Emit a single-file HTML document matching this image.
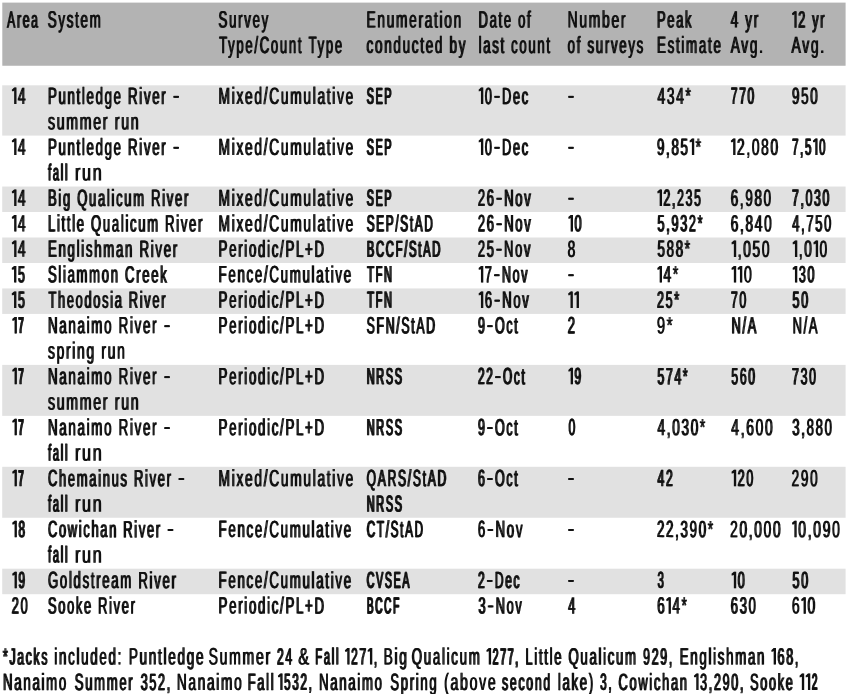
<!DOCTYPE html>
<html><head><meta charset="utf-8"><title>Escapement table</title>
<style>
html,body{margin:0;padding:0;background:#fff;}
svg{display:block;will-change:transform;filter:grayscale(1);}
text{font-family:"Liberation Sans",sans-serif;font-size:24px;font-weight:normal;fill:#111;stroke:#111;stroke-linejoin:round;white-space:pre;}
path{fill:#111;}
</style></head><body>
<svg width="850" height="694" viewBox="0 0 850 694">
<rect x="0" y="0" width="850" height="694" fill="#fff"/>
<rect x="2.3" y="2.6" width="843.3" height="63.15" fill="#b3b3b3"/>
<rect x="2.2" y="85.30" width="843.4" height="50.29" fill="#e1e1e1"/>
<rect x="2.2" y="186.54" width="843.4" height="25.48" fill="#e1e1e1"/>
<rect x="2.2" y="237.50" width="843.4" height="25.48" fill="#e1e1e1"/>
<rect x="2.2" y="288.45" width="843.4" height="25.48" fill="#e1e1e1"/>
<rect x="2.2" y="364.89" width="843.4" height="50.96" fill="#e1e1e1"/>
<rect x="2.2" y="466.80" width="843.4" height="50.96" fill="#e1e1e1"/>
<rect x="2.2" y="568.71" width="843.4" height="25.48" fill="#e1e1e1"/>
<g class="t" transform="translate(-0.45,0)">
<text transform="matrix(0.5056,0.0005,0,0.9687,7.17,27.44)" stroke-width="0.47" x="0.00 19.37 30.72 47.43">Area</text>
<text transform="matrix(0.5558,0.0005,0,0.9822,47.76,27.55)" stroke-width="0.24" x="0.00 19.07 34.12 49.18 58.91 75.32">System</text>
<text transform="matrix(0.5517,0.0005,0,0.9811,218.57,27.54)" stroke-width="0.26" x="0.00 19.09 35.52 46.59 61.67 78.10">Survey</text>
<text transform="matrix(0.5469,0.0005,0,0.9799,219.13,53.01)" stroke-width="0.28" x="0.00 16.44 31.55 48.01 64.46 74.24 94.68 111.14 127.59 144.05 153.82 163.60 180.04 195.15 211.61">Type/Count Type</text>
<text transform="matrix(0.5713,0.0005,0,0.9859,366.53,27.58)" stroke-width="0.18" x="0.00 18.98 35.31 51.63 74.60 90.92 101.89 118.21 127.86 136.16 152.49">Enumeration</text>
<text transform="matrix(0.5620,0.0005,0,0.9837,366.55,53.04)" stroke-width="0.21" x="0.00 15.02 31.40 47.77 64.14 80.51 95.54 105.23 121.60 137.98 147.67 164.04">conducted by</text>
<text transform="matrix(0.5428,0.0005,0,0.9789,478.49,27.52)" stroke-width="0.29" x="0.00 20.46 36.94 46.74 63.22 73.02 89.50">Date of</text>
<text transform="matrix(0.5462,0.0005,0,0.9798,478.58,53.01)" stroke-width="0.28" x="0.00 8.44 24.90 40.02 49.80 59.58 74.69 91.15 107.61 124.07">last count</text>
<text transform="matrix(0.5786,0.0005,0,0.9876,567.61,27.59)" stroke-width="0.15" x="0.00 20.27 36.56 59.49 75.77 92.06">Number</text>
<text transform="matrix(0.5514,0.0005,0,0.9811,567.67,53.02)" stroke-width="0.26" x="0.00 16.43 26.18 35.93 51.02 67.45 78.52 93.60 110.03 125.12">of surveys</text>
<text transform="matrix(0.5380,0.0005,0,0.9776,657.00,27.51)" stroke-width="0.32" x="0.00 19.17 35.68 52.18">Peak</text>
<text transform="matrix(0.5572,0.0005,0,0.9825,656.96,53.03)" stroke-width="0.23" x="0.00 19.06 34.11 43.83 52.21 75.26 91.65 101.37">Estimate</text>
<text transform="matrix(0.5591,0.0005,0,0.9830,730.71,27.56)" stroke-width="0.23" x="0.00 16.39 26.10 41.14">4 yr</text>
<text transform="matrix(0.5705,0.0005,0,0.9857,730.70,53.06)" stroke-width="0.18" x="0.00 18.55 33.53 49.86">Avg.</text>
<path d="M792.45 13.27 L794.80 11.17 L796.25 11.17 L796.25 27.67 L794.80 27.67 L794.80 13.67 L792.70 15.17Z"/>
<text transform="matrix(0.5274,0.0005,0,0.9748,798.25,27.49)" stroke-width="0.36" x="0.00 16.57 26.46 41.69">2 yr</text>
<text transform="matrix(0.5796,0.0005,0,0.9878,791.49,53.07)" stroke-width="0.14" x="0.00 18.51 33.44 49.72">Avg.</text>
<path d="M12.25 89.70 L14.60 87.60 L16.05 87.60 L16.05 104.10 L14.60 104.10 L14.60 90.10 L12.50 91.60Z"/>
<text transform="matrix(0.5649,0.0005,0,0.9844,18.05,104.00)" stroke-width="0.20" x="0.00">4</text>
<path d="M173.75 95.90h4.80v1.9h-4.80Z"/>
<text transform="matrix(0.5499,0.0005,0,0.9807,47.97,103.97)" stroke-width="0.26" x="0.00 19.10 35.54 51.98 61.74 70.16 86.60 103.04 119.48 135.92 145.67 166.10 174.52 189.61 206.05 217.13">Puntledge River </text>
<text transform="matrix(0.5884,0.0005,0,0.9898,47.98,129.52)" stroke-width="0.11" x="0.00 14.89 31.13 54.01 76.89 93.13 104.01 113.56 124.45 140.68">summer run</text>
<text transform="matrix(0.5729,0.0005,0,0.9863,218.53,104.02)" stroke-width="0.17" x="0.00 22.96 31.26 46.23 62.54 78.86 88.49 108.79 125.11 148.06 164.38 172.68 188.99 198.63 206.93 221.90">Mixed/Cumulative</text>
<text transform="matrix(0.4440,0.0005,0,0.9488,366.79,103.71)" stroke-width="0.83" x="0.00 19.84 39.67">SEP</text>
<path d="M479.05 89.70 L481.40 87.60 L482.85 87.60 L482.85 104.10 L481.40 104.10 L481.40 90.10 L479.30 91.60Z"/>
<path d="M494.63 95.90h4.80v1.9h-4.80Z"/>
<text transform="matrix(0.5302,0.0005,0,0.9756,484.85,103.93)" stroke-width="0.35" x="0.00 32.59 53.12 69.68">0Dec</text>
<path d="M568.60 95.90h4.80v1.9h-4.80Z"/>
<text transform="matrix(0.5730,0.0005,0,0.9863,657.50,104.02)" stroke-width="0.17" x="0.00 16.31 32.63 48.94">434*</text>
<text transform="matrix(0.4973,0.0005,0,0.9663,730.88,103.85)" stroke-width="0.51" x="0.00 16.77 33.53">770</text>
<text transform="matrix(0.5574,0.0005,0,0.9826,791.96,103.99)" stroke-width="0.23" x="0.00 16.40 32.79">950</text>
<path d="M12.25 140.66 L14.60 138.56 L16.05 138.56 L16.05 155.06 L14.60 155.06 L14.60 141.06 L12.50 142.56Z"/>
<text transform="matrix(0.5649,0.0005,0,0.9844,18.05,154.96)" stroke-width="0.20" x="0.00">4</text>
<path d="M173.75 146.86h4.80v1.9h-4.80Z"/>
<text transform="matrix(0.5499,0.0005,0,0.9807,47.97,154.93)" stroke-width="0.26" x="0.00 19.10 35.54 51.98 61.74 70.16 86.60 103.04 119.48 135.92 145.67 166.10 174.52 189.61 206.05 217.13">Puntledge River </text>
<text transform="matrix(0.4624,0.0005,0,0.9552,48.11,180.19)" stroke-width="0.71" x="0.00 10.34 27.37 36.38">fall</text>
<text transform="matrix(0.6710,0.0005,0,0.9964,74.98,180.53)" stroke-width="0.00" x="0.00 10.53 26.41">run</text>
<text transform="matrix(0.5729,0.0005,0,0.9863,218.53,154.97)" stroke-width="0.17" x="0.00 22.96 31.26 46.23 62.54 78.86 88.49 108.79 125.11 148.06 164.38 172.68 188.99 198.63 206.93 221.90">Mixed/Cumulative</text>
<text transform="matrix(0.4440,0.0005,0,0.9488,366.79,154.66)" stroke-width="0.83" x="0.00 19.84 39.67">SEP</text>
<path d="M479.05 140.66 L481.40 138.56 L482.85 138.56 L482.85 155.06 L481.40 155.06 L481.40 141.06 L479.30 142.56Z"/>
<path d="M494.63 146.86h4.80v1.9h-4.80Z"/>
<text transform="matrix(0.5302,0.0005,0,0.9756,484.85,154.88)" stroke-width="0.35" x="0.00 32.59 53.12 69.68">0Dec</text>
<path d="M568.60 146.86h4.80v1.9h-4.80Z"/>
<path d="M689.99 140.66 L692.34 138.56 L693.79 138.56 L693.79 155.06 L692.34 155.06 L692.34 141.06 L690.24 142.56Z"/>
<text transform="matrix(0.5550,0.0005,0,0.9820,656.96,154.94)" stroke-width="0.24" x="0.00 16.41 26.14 42.55 69.95">9,85*</text>
<path d="M731.25 140.66 L733.60 138.56 L735.05 138.56 L735.05 155.06 L733.60 155.06 L733.60 141.06 L731.50 142.56Z"/>
<text transform="matrix(0.5702,0.0005,0,0.9856,737.05,154.97)" stroke-width="0.18" x="0.00 16.33 25.98 42.31 58.64">2,080</text>
<path d="M813.34 140.66 L815.69 138.56 L817.14 138.56 L817.14 155.06 L815.69 155.06 L815.69 141.06 L813.59 142.56Z"/>
<text transform="matrix(0.4738,0.0005,0,0.9590,792.13,154.75)" stroke-width="0.64" x="0.00 16.94 27.19 57.00">7,50</text>
<path d="M12.25 191.61 L14.60 189.51 L16.05 189.51 L16.05 206.01 L14.60 206.01 L14.60 192.01 L12.50 193.51Z"/>
<text transform="matrix(0.5649,0.0005,0,0.9844,18.05,205.91)" stroke-width="0.20" x="0.00">4</text>
<text transform="matrix(0.5423,0.0005,0,0.9787,47.99,205.87)" stroke-width="0.30" x="0.00 19.14 27.61 44.09 53.90 75.70 92.18 108.66 117.13 125.60 140.73 157.22 180.34 190.15 210.61 219.08 234.22 250.70">Big Qualicum River</text>
<text transform="matrix(0.5729,0.0005,0,0.9863,218.53,205.93)" stroke-width="0.17" x="0.00 22.96 31.26 46.23 62.54 78.86 88.49 108.79 125.11 148.06 164.38 172.68 188.99 198.63 206.93 221.90">Mixed/Cumulative</text>
<text transform="matrix(0.4440,0.0005,0,0.9488,366.79,205.62)" stroke-width="0.83" x="0.00 19.84 39.67">SEP</text>
<path d="M496.71 197.81h4.80v1.9h-4.80Z"/>
<text transform="matrix(0.5402,0.0005,0,0.9782,477.89,205.86)" stroke-width="0.31" x="0.00 16.49 48.73 69.20 85.70">26Nov</text>
<path d="M568.60 197.81h4.80v1.9h-4.80Z"/>
<path d="M657.75 191.61 L660.10 189.51 L661.55 189.51 L661.55 206.01 L660.10 206.01 L660.10 192.01 L658.00 193.51Z"/>
<text transform="matrix(0.5089,0.0005,0,0.9697,663.55,205.79)" stroke-width="0.45" x="0.00 16.69 26.70 43.39 60.07">2,235</text>
<text transform="matrix(0.5582,0.0005,0,0.9827,730.76,205.90)" stroke-width="0.23" x="0.00 16.39 26.11 42.50 58.89">6,980</text>
<text transform="matrix(0.5070,0.0005,0,0.9691,792.06,205.79)" stroke-width="0.46" x="0.00 16.70 26.72 43.42 60.12">7,030</text>
<path d="M12.25 217.09 L14.60 214.99 L16.05 214.99 L16.05 231.49 L14.60 231.49 L14.60 217.49 L12.50 218.99Z"/>
<text transform="matrix(0.5649,0.0005,0,0.9844,18.05,231.39)" stroke-width="0.20" x="0.00">4</text>
<text transform="matrix(0.5437,0.0005,0,0.9791,47.99,231.35)" stroke-width="0.29" x="0.00 16.47 24.93 34.73 44.52 52.98 69.45 79.25 101.04 117.52 133.99 142.45 150.91 166.04 182.51 205.63 215.42 235.88 244.34 259.47 275.94">Little Qualicum River</text>
<text transform="matrix(0.5729,0.0005,0,0.9863,218.53,231.41)" stroke-width="0.17" x="0.00 22.96 31.26 46.23 62.54 78.86 88.49 108.79 125.11 148.06 164.38 172.68 188.99 198.63 206.93 221.90">Mixed/Cumulative</text>
<text transform="matrix(0.4903,0.0005,0,0.9642,366.69,231.22)" stroke-width="0.55" x="0.00 19.47 38.95 58.42 68.56 88.03 98.17 117.64">SEP/StAD</text>
<path d="M496.71 223.29h4.80v1.9h-4.80Z"/>
<text transform="matrix(0.5402,0.0005,0,0.9782,477.89,231.34)" stroke-width="0.31" x="0.00 16.49 48.73 69.20 85.70">26Nov</text>
<path d="M568.75 217.09 L571.10 214.99 L572.55 214.99 L572.55 231.49 L571.10 231.49 L571.10 217.49 L569.00 218.99Z"/>
<text transform="matrix(0.5314,0.0005,0,0.9759,574.55,231.32)" stroke-width="0.35" x="0.00">0</text>
<text transform="matrix(0.5257,0.0005,0,0.9744,657.55,231.31)" stroke-width="0.37" x="0.00 16.58 26.48 43.06 59.65 76.23">5,932*</text>
<text transform="matrix(0.5688,0.0005,0,0.9853,730.73,231.40)" stroke-width="0.19" x="0.00 16.34 25.99 42.33 58.67">6,840</text>
<text transform="matrix(0.5364,0.0005,0,0.9772,792.24,231.33)" stroke-width="0.32" x="0.00 16.52 26.35 42.87 59.39">4,750</text>
<path d="M12.25 242.57 L14.60 240.47 L16.05 240.47 L16.05 256.97 L14.60 256.97 L14.60 242.97 L12.50 244.47Z"/>
<text transform="matrix(0.5649,0.0005,0,0.9844,18.05,256.87)" stroke-width="0.20" x="0.00">4</text>
<text transform="matrix(0.5514,0.0005,0,0.9811,47.97,256.84)" stroke-width="0.26" x="0.00 19.09 35.52 51.95 60.37 68.78 83.87 100.30 123.37 139.80 156.23 165.98 186.40 194.81 209.90 226.33">Englishman River</text>
<text transform="matrix(0.5523,0.0005,0,0.9813,218.57,256.84)" stroke-width="0.25" x="0.00 19.09 35.51 46.58 54.99 71.42 87.84 96.25 111.33 121.08 140.16 156.59 173.68">Periodic/PL+D</text>
<text transform="matrix(0.4696,0.0005,0,0.9576,366.74,256.65)" stroke-width="0.67" x="0.00 19.63 40.58 61.53 79.81 90.10 109.73 120.02 139.65">BCCF/StAD</text>
<path d="M496.60 248.77h4.80v1.9h-4.80Z"/>
<text transform="matrix(0.5356,0.0005,0,0.9770,477.90,256.81)" stroke-width="0.33" x="0.00 16.52 48.91 69.42 85.94">25Nov</text>
<text transform="matrix(0.5758,0.0005,0,0.9869,567.62,256.89)" stroke-width="0.16" x="0.00">8</text>
<text transform="matrix(0.5539,0.0005,0,0.9817,657.52,256.85)" stroke-width="0.25" x="0.00 16.42 32.83 49.25">588*</text>
<path d="M731.95 242.57 L734.30 240.47 L735.75 240.47 L735.75 256.97 L734.30 256.97 L734.30 242.97 L732.20 244.47Z"/>
<text transform="matrix(0.5705,0.0005,0,0.9857,737.75,256.88)" stroke-width="0.18" x="0.00 9.65 25.98 42.30">,050</text>
<path d="M793.05 242.57 L795.40 240.47 L796.85 240.47 L796.85 256.97 L795.40 256.97 L795.40 242.97 L793.30 244.47Z"/>
<path d="M813.85 242.57 L816.20 240.47 L817.65 240.47 L817.65 256.97 L816.20 256.97 L816.20 242.97 L814.10 244.47Z"/>
<text transform="matrix(0.5647,0.0005,0,0.9843,798.85,256.87)" stroke-width="0.20" x="0.00 9.68 36.84">,00</text>
<path d="M12.15 268.05 L14.50 265.95 L15.95 265.95 L15.95 282.45 L14.50 282.45 L14.50 268.45 L12.40 269.95Z"/>
<text transform="matrix(0.5146,0.0005,0,0.9713,17.95,282.24)" stroke-width="0.43" x="0.00">5</text>
<text transform="matrix(0.5448,0.0005,0,0.9794,47.98,282.31)" stroke-width="0.29" x="0.00 19.13 27.58 36.03 52.50 75.61 98.73 115.19 131.66 141.45 161.90 173.01 189.48 205.95">Sliammon Creek</text>
<text transform="matrix(0.5532,0.0005,0,0.9815,218.57,282.32)" stroke-width="0.25" x="0.00 17.73 34.15 50.57 65.65 82.07 91.81 112.21 128.63 151.70 168.12 176.52 192.94 202.68 211.09 226.16">Fence/Cumulative</text>
<text transform="matrix(0.4581,0.0005,0,0.9538,367.22,282.09)" stroke-width="0.74" x="0.00 18.37 36.74">TFN</text>
<path d="M479.05 268.05 L481.40 265.95 L482.85 265.95 L482.85 282.45 L481.40 282.45 L481.40 268.45 L479.30 269.95Z"/>
<path d="M494.46 274.25h4.80v1.9h-4.80Z"/>
<text transform="matrix(0.5175,0.0005,0,0.9721,484.85,282.25)" stroke-width="0.41" x="0.00 33.06 53.68 70.31">7Nov</text>
<path d="M568.60 274.25h4.80v1.9h-4.80Z"/>
<path d="M657.75 268.05 L660.10 265.95 L661.55 265.95 L661.55 282.45 L660.10 282.45 L660.10 268.45 L658.00 269.95Z"/>
<text transform="matrix(0.5705,0.0005,0,0.9857,663.55,282.36)" stroke-width="0.18" x="0.00 16.33">4*</text>
<path d="M731.95 268.05 L734.30 265.95 L735.75 265.95 L735.75 282.45 L734.30 282.45 L734.30 268.45 L732.20 269.95Z"/>
<path d="M738.05 268.05 L740.40 265.95 L741.85 265.95 L741.85 282.45 L740.40 282.45 L740.40 268.45 L738.30 269.95Z"/>
<text transform="matrix(0.5983,0.0005,0,0.9920,743.85,282.41)" stroke-width="0.07" x="0.00">0</text>
<path d="M793.05 268.05 L795.40 265.95 L796.85 265.95 L796.85 282.45 L795.40 282.45 L795.40 268.45 L793.30 269.95Z"/>
<text transform="matrix(0.5198,0.0005,0,0.9727,798.85,282.25)" stroke-width="0.40" x="0.00 16.62">30</text>
<path d="M12.15 293.52 L14.50 291.42 L15.95 291.42 L15.95 307.92 L14.50 307.92 L14.50 293.92 L12.40 295.42Z"/>
<text transform="matrix(0.5146,0.0005,0,0.9713,17.95,307.72)" stroke-width="0.43" x="0.00">5</text>
<text transform="matrix(0.5328,0.0005,0,0.9763,48.54,307.76)" stroke-width="0.34" x="0.00 17.85 34.39 50.93 67.46 84.00 100.54 115.73 124.25 140.79 150.65 171.17 179.70 194.89 211.42">Theodosia River</text>
<text transform="matrix(0.5523,0.0005,0,0.9813,218.57,307.80)" stroke-width="0.25" x="0.00 19.09 35.51 46.58 54.99 71.42 87.84 96.25 111.33 121.08 140.16 156.59 173.68">Periodic/PL+D</text>
<text transform="matrix(0.4581,0.0005,0,0.9538,367.22,307.57)" stroke-width="0.74" x="0.00 18.37 36.74">TFN</text>
<path d="M479.05 293.52 L481.40 291.42 L482.85 291.42 L482.85 307.92 L481.40 307.92 L481.40 293.92 L479.30 295.42Z"/>
<path d="M494.77 299.72h4.80v1.9h-4.80Z"/>
<text transform="matrix(0.5411,0.0005,0,0.9784,484.85,307.78)" stroke-width="0.30" x="0.00 32.20 52.67 69.16">6Nov</text>
<path d="M568.60 293.52 L570.95 291.42 L572.40 291.42 L572.40 307.92 L570.95 307.92 L570.95 293.92 L568.85 295.42Z"/>
<path d="M574.70 293.52 L577.05 291.42 L578.50 291.42 L578.50 307.92 L577.05 307.92 L577.05 293.92 L574.95 295.42Z"/>
<text transform="matrix(0.5185,0.0005,0,0.9724,657.04,307.73)" stroke-width="0.41" x="0.00 16.63 33.25">25*</text>
<text transform="matrix(0.5162,0.0005,0,0.9717,730.84,307.72)" stroke-width="0.42" x="0.00 16.64">70</text>
<text transform="matrix(0.5196,0.0005,0,0.9727,792.55,307.73)" stroke-width="0.40" x="0.00 16.62">50</text>
<path d="M12.65 319.00 L15.00 316.90 L16.45 316.90 L16.45 333.40 L15.00 333.40 L15.00 319.40 L12.90 320.90Z"/>
<text transform="matrix(0.3808,0.0005,0,0.9229,18.45,332.80)" stroke-width="1.31" x="0.00">7</text>
<path d="M164.65 325.20h4.80v1.9h-4.80Z"/>
<text transform="matrix(0.5556,0.0005,0,0.9821,47.96,333.28)" stroke-width="0.24" x="0.00 20.39 36.80 53.21 69.61 78.01 101.06 117.47 127.19 147.58 155.98 171.04 187.44 198.50">Nanaimo River </text>
<text transform="matrix(0.5761,0.0005,0,0.9870,48.00,358.80)" stroke-width="0.16" x="0.00 14.95 31.25 42.19 50.47 66.77 83.07 92.69 103.63 119.93">spring run</text>
<text transform="matrix(0.5523,0.0005,0,0.9813,218.57,333.28)" stroke-width="0.25" x="0.00 19.09 35.51 46.58 54.99 71.42 87.84 96.25 111.33 121.08 140.16 156.59 173.68">Periodic/PL+D</text>
<text transform="matrix(0.5109,0.0005,0,0.9703,366.65,333.19)" stroke-width="0.44" x="0.00 19.33 37.32 57.98 67.98 87.31 97.31 116.64">SFN/StAD</text>
<path d="M487.55 325.20h4.80v1.9h-4.80Z"/>
<text transform="matrix(0.5176,0.0005,0,0.9721,477.94,333.20)" stroke-width="0.41" x="0.00 33.05 55.01 70.29">9Oct</text>
<text transform="matrix(0.5455,0.0005,0,0.9796,567.68,333.26)" stroke-width="0.28" x="0.00">2</text>
<text transform="matrix(0.6183,0.0005,0,0.9962,656.83,333.40)" stroke-width="0.00" x="0.00 16.10">9*</text>
<text transform="matrix(0.5339,0.0005,0,0.9765,731.51,333.24)" stroke-width="0.34" x="0.00 20.52 30.37">N/A</text>
<text transform="matrix(0.5366,0.0005,0,0.9773,792.60,333.24)" stroke-width="0.32" x="0.00 20.50 30.34">N/A</text>
<path d="M12.65 369.96 L15.00 367.86 L16.45 367.86 L16.45 384.36 L15.00 384.36 L15.00 370.36 L12.90 371.86Z"/>
<text transform="matrix(0.3808,0.0005,0,0.9229,18.45,383.75)" stroke-width="1.31" x="0.00">7</text>
<path d="M164.65 376.16h4.80v1.9h-4.80Z"/>
<text transform="matrix(0.5556,0.0005,0,0.9821,47.96,384.24)" stroke-width="0.24" x="0.00 20.39 36.80 53.21 69.61 78.01 101.06 117.47 127.19 147.58 155.98 171.04 187.44 198.50">Nanaimo River </text>
<text transform="matrix(0.5884,0.0005,0,0.9898,47.98,409.78)" stroke-width="0.11" x="0.00 14.89 31.13 54.01 76.89 93.13 104.01 113.56 124.45 140.68">summer run</text>
<text transform="matrix(0.5523,0.0005,0,0.9813,218.57,384.23)" stroke-width="0.25" x="0.00 19.09 35.51 46.58 54.99 71.42 87.84 96.25 111.33 121.08 140.16 156.59 173.68">Periodic/PL+D</text>
<text transform="matrix(0.4523,0.0005,0,0.9517,366.77,383.99)" stroke-width="0.77" x="0.00 21.09 42.18 61.95">NRSS</text>
<path d="M495.51 376.16h4.80v1.9h-4.80Z"/>
<text transform="matrix(0.4913,0.0005,0,0.9645,477.99,384.09)" stroke-width="0.55" x="0.00 16.81 50.92 73.04 88.50">22Oct</text>
<path d="M568.75 369.96 L571.10 367.86 L572.55 367.86 L572.55 384.36 L571.10 384.36 L571.10 370.36 L569.00 371.86Z"/>
<text transform="matrix(0.4979,0.0005,0,0.9665,574.55,384.11)" stroke-width="0.51" x="0.00">9</text>
<text transform="matrix(0.5049,0.0005,0,0.9685,657.57,384.13)" stroke-width="0.47" x="0.00 16.71 33.43 50.14">574*</text>
<text transform="matrix(0.5080,0.0005,0,0.9694,731.37,384.14)" stroke-width="0.46" x="0.00 16.69 33.39">560</text>
<text transform="matrix(0.5137,0.0005,0,0.9710,792.05,384.15)" stroke-width="0.43" x="0.00 16.66 33.31">730</text>
<path d="M12.65 420.91 L15.00 418.81 L16.45 418.81 L16.45 435.31 L15.00 435.31 L15.00 421.31 L12.90 422.81Z"/>
<text transform="matrix(0.3808,0.0005,0,0.9229,18.45,434.71)" stroke-width="1.31" x="0.00">7</text>
<path d="M164.65 427.11h4.80v1.9h-4.80Z"/>
<text transform="matrix(0.5556,0.0005,0,0.9821,47.96,435.20)" stroke-width="0.24" x="0.00 20.39 36.80 53.21 69.61 78.01 101.06 117.47 127.19 147.58 155.98 171.04 187.44 198.50">Nanaimo River </text>
<text transform="matrix(0.4624,0.0005,0,0.9552,48.11,460.45)" stroke-width="0.71" x="0.00 10.34 27.37 36.38">fall</text>
<text transform="matrix(0.6710,0.0005,0,0.9964,74.98,460.79)" stroke-width="0.00" x="0.00 10.53 26.41">run</text>
<text transform="matrix(0.5523,0.0005,0,0.9813,218.57,435.19)" stroke-width="0.25" x="0.00 19.09 35.51 46.58 54.99 71.42 87.84 96.25 111.33 121.08 140.16 156.59 173.68">Periodic/PL+D</text>
<text transform="matrix(0.4523,0.0005,0,0.9517,366.77,434.95)" stroke-width="0.77" x="0.00 21.09 42.18 61.95">NRSS</text>
<path d="M487.55 427.11h4.80v1.9h-4.80Z"/>
<text transform="matrix(0.5176,0.0005,0,0.9721,477.94,435.11)" stroke-width="0.41" x="0.00 33.05 55.01 70.29">9Oct</text>
<text transform="matrix(0.4954,0.0005,0,0.9657,568.58,435.06)" stroke-width="0.52" x="0.00">0</text>
<text transform="matrix(0.5645,0.0005,0,0.9843,657.51,435.21)" stroke-width="0.20" x="0.00 16.36 26.04 42.40 58.76 75.12">4,030*</text>
<text transform="matrix(0.5763,0.0005,0,0.9870,731.29,435.24)" stroke-width="0.16" x="0.00 16.30 25.92 42.21 58.51">4,600</text>
<text transform="matrix(0.5485,0.0005,0,0.9803,792.22,435.18)" stroke-width="0.27" x="0.00 16.45 26.21 42.66 59.11">3,880</text>
<path d="M12.65 471.87 L15.00 469.77 L16.45 469.77 L16.45 486.27 L15.00 486.27 L15.00 472.27 L12.90 473.77Z"/>
<text transform="matrix(0.3808,0.0005,0,0.9229,18.45,485.66)" stroke-width="1.31" x="0.00">7</text>
<path d="M178.95 478.07h4.80v1.9h-4.80Z"/>
<text transform="matrix(0.5387,0.0005,0,0.9778,48.00,486.12)" stroke-width="0.31" x="0.00 20.49 36.99 53.49 76.64 93.15 101.63 118.14 134.64 149.79 159.62 180.11 188.59 203.75 220.25 231.40">Chemainus River </text>
<text transform="matrix(0.4624,0.0005,0,0.9552,48.11,511.41)" stroke-width="0.71" x="0.00 10.34 27.37 36.38">fall</text>
<text transform="matrix(0.6710,0.0005,0,0.9964,74.98,511.75)" stroke-width="0.00" x="0.00 10.53 26.41">run</text>
<text transform="matrix(0.5729,0.0005,0,0.9863,218.53,486.19)" stroke-width="0.17" x="0.00 22.96 31.26 46.23 62.54 78.86 88.49 108.79 125.11 148.06 164.38 172.68 188.99 198.63 206.93 221.90">Mixed/Cumulative</text>
<text transform="matrix(0.5052,0.0005,0,0.9686,366.66,486.04)" stroke-width="0.47" x="0.00 22.03 41.41 62.10 81.47 91.51 110.88 120.91 140.29">QARS/StAD</text>
<text transform="matrix(0.4523,0.0005,0,0.9517,366.77,511.38)" stroke-width="0.77" x="0.00 21.09 42.18 61.95">NRSS</text>
<path d="M487.55 478.07h4.80v1.9h-4.80Z"/>
<text transform="matrix(0.5176,0.0005,0,0.9721,477.94,486.07)" stroke-width="0.41" x="0.00 33.05 55.01 70.29">6Oct</text>
<path d="M568.60 478.07h4.80v1.9h-4.80Z"/>
<text transform="matrix(0.5031,0.0005,0,0.9680,657.57,486.04)" stroke-width="0.48" x="0.00 16.73">42</text>
<path d="M731.95 471.87 L734.30 469.77 L735.75 469.77 L735.75 486.27 L734.30 486.27 L734.30 472.27 L732.20 473.77Z"/>
<text transform="matrix(0.5159,0.0005,0,0.9716,737.75,486.07)" stroke-width="0.42" x="0.00 16.64">20</text>
<text transform="matrix(0.5656,0.0005,0,0.9845,791.64,486.17)" stroke-width="0.20" x="0.00 16.35 32.71">290</text>
<path d="M12.65 522.83 L15.00 520.73 L16.45 520.73 L16.45 537.23 L15.00 537.23 L15.00 523.23 L12.90 524.73Z"/>
<text transform="matrix(0.4895,0.0005,0,0.9639,18.45,536.96)" stroke-width="0.56" x="0.00">8</text>
<path d="M168.05 529.03h4.80v1.9h-4.80Z"/>
<text transform="matrix(0.5354,0.0005,0,0.9770,48.00,537.07)" stroke-width="0.33" x="0.00 20.51 37.03 57.54 66.04 81.22 97.74 114.27 130.79 140.63 161.14 169.65 184.82 201.34 212.51">Cowichan River </text>
<text transform="matrix(0.4624,0.0005,0,0.9552,48.11,562.36)" stroke-width="0.71" x="0.00 10.34 27.37 36.38">fall</text>
<text transform="matrix(0.6710,0.0005,0,0.9964,74.98,562.70)" stroke-width="0.00" x="0.00 10.53 26.41">run</text>
<text transform="matrix(0.5532,0.0005,0,0.9815,218.57,537.10)" stroke-width="0.25" x="0.00 17.73 34.15 50.57 65.65 82.07 91.81 112.21 128.63 151.70 168.12 176.52 192.94 202.68 211.09 226.16">Fence/Cumulative</text>
<text transform="matrix(0.4877,0.0005,0,0.9634,366.70,536.95)" stroke-width="0.57" x="0.00 20.82 38.96 49.12 68.61 78.76 98.26">CT/StAD</text>
<path d="M487.95 529.03h4.80v1.9h-4.80Z"/>
<text transform="matrix(0.5536,0.0005,0,0.9816,477.87,537.10)" stroke-width="0.25" x="0.00 31.77 52.18 68.59">6Nov</text>
<path d="M568.60 529.03h4.80v1.9h-4.80Z"/>
<text transform="matrix(0.5548,0.0005,0,0.9819,656.96,537.11)" stroke-width="0.24" x="0.00 16.41 32.82 42.56 58.97 75.38 91.79">22,390*</text>
<text transform="matrix(0.5718,0.0005,0,0.9860,730.13,537.14)" stroke-width="0.17" x="0.00 16.32 32.64 42.28 58.60 74.92">20,000</text>
<path d="M792.45 522.83 L794.80 520.73 L796.25 520.73 L796.25 537.23 L794.80 537.23 L794.80 523.23 L792.70 524.73Z"/>
<text transform="matrix(0.5805,0.0005,0,0.9880,798.25,537.16)" stroke-width="0.14" x="0.00 16.28 25.87 42.15 58.43">0,090</text>
<path d="M12.65 573.78 L15.00 571.68 L16.45 571.68 L16.45 588.18 L15.00 588.18 L15.00 574.18 L12.90 575.68Z"/>
<text transform="matrix(0.4895,0.0005,0,0.9639,18.45,587.91)" stroke-width="0.56" x="0.00">9</text>
<text transform="matrix(0.5484,0.0005,0,0.9803,47.98,588.05)" stroke-width="0.27" x="0.00 21.77 38.22 46.65 63.09 78.19 87.96 99.05 115.50 131.95 155.04 164.81 185.24 193.67 208.77 225.22">Goldstream River</text>
<text transform="matrix(0.5532,0.0005,0,0.9815,218.57,588.06)" stroke-width="0.25" x="0.00 17.73 34.15 50.57 65.65 82.07 91.81 112.21 128.63 151.70 168.12 176.52 192.94 202.68 211.09 226.16">Fence/Cumulative</text>
<text transform="matrix(0.4409,0.0005,0,0.9476,366.80,587.78)" stroke-width="0.85" x="0.00 21.19 41.05 60.92 80.78">CVSEA</text>
<path d="M487.34 579.98h4.80v1.9h-4.80Z"/>
<text transform="matrix(0.4988,0.0005,0,0.9667,477.98,587.94)" stroke-width="0.51" x="0.00 33.80 54.54 71.29">2Dec</text>
<path d="M568.60 579.98h4.80v1.9h-4.80Z"/>
<text transform="matrix(0.4679,0.0005,0,0.9570,657.61,587.86)" stroke-width="0.68" x="0.00">3</text>
<path d="M731.95 573.78 L734.30 571.68 L735.75 571.68 L735.75 588.18 L734.30 588.18 L734.30 574.18 L732.20 575.68Z"/>
<text transform="matrix(0.5230,0.0005,0,0.9736,737.75,587.99)" stroke-width="0.39" x="0.00">0</text>
<text transform="matrix(0.5196,0.0005,0,0.9727,792.55,587.99)" stroke-width="0.40" x="0.00 16.62">50</text>
<text transform="matrix(0.5334,0.0005,0,0.9764,11.81,613.50)" stroke-width="0.34" x="0.00 16.53">20</text>
<text transform="matrix(0.5344,0.0005,0,0.9767,48.00,613.50)" stroke-width="0.33" x="0.00 19.19 35.72 52.25 67.43 83.96 93.81 114.32 122.83 138.02 154.54">Sooke River</text>
<text transform="matrix(0.5523,0.0005,0,0.9813,218.57,613.54)" stroke-width="0.25" x="0.00 19.09 35.51 46.58 54.99 71.42 87.84 96.25 111.33 121.08 140.16 156.59 173.68">Periodic/PL+D</text>
<text transform="matrix(0.4174,0.0005,0,0.9387,366.84,613.18)" stroke-width="1.01" x="0.00 20.08 41.49 62.89">BCCF</text>
<path d="M488.22 605.46h4.80v1.9h-4.80Z"/>
<text transform="matrix(0.5303,0.0005,0,0.9756,478.44,613.49)" stroke-width="0.35" x="0.00 32.58 53.12 69.67">3Nov</text>
<text transform="matrix(0.5229,0.0005,0,0.9736,568.25,613.47)" stroke-width="0.39" x="0.00">4</text>
<path d="M666.67 599.26 L669.02 597.16 L670.47 597.16 L670.47 613.66 L669.02 613.66 L669.02 599.66 L666.92 601.16Z"/>
<text transform="matrix(0.5553,0.0005,0,0.9820,657.26,613.54)" stroke-width="0.24" x="0.00 27.39 43.80">64*</text>
<text transform="matrix(0.5411,0.0005,0,0.9784,730.79,613.51)" stroke-width="0.30" x="0.00 16.49 32.98">630</text>
<path d="M801.66 599.26 L804.01 597.16 L805.46 597.16 L805.46 613.66 L804.01 613.66 L804.01 599.66 L801.91 601.16Z"/>
<text transform="matrix(0.5807,0.0005,0,0.9881,791.91,613.59)" stroke-width="0.14" x="0.00 26.78">60</text>
<text transform="matrix(0.5074,0.0005,0,0.9692,3.07,664.39)" stroke-width="0.46" x="0.00 12.69 28.04 44.74 60.09 75.44">*Jacks</text>
<text transform="matrix(0.5553,0.0005,0,0.9820,54.36,664.50)" stroke-width="0.24" x="0.00 8.39 24.80 39.86 48.26 64.67 81.08 97.48 113.89">included:</text>
<text transform="matrix(0.5648,0.0005,0,0.9843,128.84,664.52)" stroke-width="0.20" x="0.00 19.02 35.38 51.73 61.41 69.75 86.11 102.47 118.83">Puntledge</text>
<text transform="matrix(0.5846,0.0005,0,0.9889,208.60,664.55)" stroke-width="0.12" x="0.00 18.92 35.17 58.07 80.97 97.23">Summer</text>
<text transform="matrix(0.5033,0.0005,0,0.9680,276.97,664.38)" stroke-width="0.48" x="0.00 16.73">24</text>
<text transform="matrix(0.6750,0.0005,0,0.9964,298.25,664.62)" stroke-width="0.00" x="0.00">&amp;</text>
<text transform="matrix(0.4644,0.0005,0,0.9559,315.35,664.28)" stroke-width="0.70" x="0.00 18.32 35.33 44.32">Fall</text>
<path d="M345.35 650.22 L347.70 648.12 L349.15 648.12 L349.15 664.62 L347.70 664.62 L347.70 650.62 L345.60 652.12Z"/>
<path d="M368.05 650.22 L370.40 648.12 L371.85 648.12 L371.85 664.62 L370.40 664.62 L370.40 650.62 L368.30 652.12Z"/>
<text transform="matrix(0.4944,0.0005,0,0.9654,351.15,664.36)" stroke-width="0.53" x="0.00 16.79 45.91">27,</text>
<text transform="matrix(0.5754,0.0005,0,0.9868,383.62,664.54)" stroke-width="0.16" x="0.00 18.96 27.25">Big</text>
<text transform="matrix(0.5541,0.0005,0,0.9817,411.76,664.50)" stroke-width="0.25" x="0.00 21.74 38.15 54.57 62.97 71.37 86.44 102.85">Qualicum</text>
<path d="M486.85 650.22 L489.20 648.12 L490.65 648.12 L490.65 664.62 L489.20 664.62 L489.20 650.62 L487.10 652.12Z"/>
<text transform="matrix(0.4376,0.0005,0,0.9464,492.65,664.20)" stroke-width="0.87" x="0.00 17.23 34.47 51.70">277,</text>
<text transform="matrix(0.5439,0.0005,0,0.9792,525.38,664.47)" stroke-width="0.29" x="0.00 16.47 24.93 34.72 44.52 52.97">Little</text>
<text transform="matrix(0.5490,0.0005,0,0.9804,568.47,664.48)" stroke-width="0.27" x="0.00 21.76 38.21 54.65 63.08 71.51 86.61 103.05">Qualicum</text>
<text transform="matrix(0.5150,0.0005,0,0.9714,643.14,664.41)" stroke-width="0.42" x="0.00 16.65 33.30 49.95">929,</text>
<text transform="matrix(0.5531,0.0005,0,0.9815,679.77,664.49)" stroke-width="0.25" x="0.00 19.08 35.50 51.92 60.33 68.74 83.81 100.23 123.30 139.72">Englishman</text>
<path d="M771.75 650.22 L774.10 648.12 L775.55 648.12 L775.55 664.62 L774.10 664.62 L774.10 650.62 L772.00 652.12Z"/>
<text transform="matrix(0.5237,0.0005,0,0.9738,777.55,664.43)" stroke-width="0.38" x="0.00 16.59 33.19">68,</text>
<text transform="matrix(0.5518,0.0005,0,0.9812,3.07,689.97)" stroke-width="0.26" x="0.00 20.41 36.84 53.27 69.70 78.11 101.18">Nanaimo</text>
<text transform="matrix(0.5446,0.0005,0,0.9793,74.78,689.95)" stroke-width="0.29" x="0.00 19.13 35.60 58.71 81.83 98.30">Summer</text>
<text transform="matrix(0.5216,0.0005,0,0.9732,140.75,689.90)" stroke-width="0.39" x="0.00 16.61 33.21 49.82">352,</text>
<text transform="matrix(0.5691,0.0005,0,0.9854,176.83,690.00)" stroke-width="0.18" x="0.00 20.32 36.65 52.99 69.32 77.64 100.62">Nanaimo</text>
<text transform="matrix(0.5374,0.0005,0,0.9775,247.70,689.94)" stroke-width="0.32" x="0.00 17.82 34.33 42.83">Fall</text>
<path d="M278.35 675.69 L280.70 673.59 L282.15 673.59 L282.15 690.09 L280.70 690.09 L280.70 676.09 L278.60 677.59Z"/>
<text transform="matrix(0.4830,0.0005,0,0.9619,284.15,689.81)" stroke-width="0.59" x="0.00 16.87 33.73 50.60">532,</text>
<text transform="matrix(0.5486,0.0005,0,0.9804,319.08,689.96)" stroke-width="0.27" x="0.00 20.43 36.88 53.32 69.77 78.20 101.29">Nanaimo</text>
<text transform="matrix(0.5437,0.0005,0,0.9791,390.39,689.95)" stroke-width="0.29" x="0.00 19.13 35.61 46.73 55.19 71.66">Spring</text>
<text transform="matrix(0.5877,0.0005,0,0.9896,444.10,690.04)" stroke-width="0.11" x="0.00 10.88 27.13 43.37 59.61 74.50">(above</text>
<text transform="matrix(0.5126,0.0005,0,0.9707,502.06,689.88)" stroke-width="0.44" x="0.00 15.32 31.98 47.30 63.96 80.63">second</text>
<text transform="matrix(0.5487,0.0005,0,0.9804,557.88,689.96)" stroke-width="0.27" x="0.00 8.43 24.88 39.97 56.42">lake)</text>
<text transform="matrix(0.4924,0.0005,0,0.9648,600.08,689.83)" stroke-width="0.54" x="0.00 16.80">3,</text>
<text transform="matrix(0.5370,0.0005,0,0.9774,618.50,689.94)" stroke-width="0.32" x="0.00 20.50 37.01 57.51 66.01 81.17 97.69 114.20">Cowichan</text>
<path d="M694.35 675.69 L696.70 673.59 L698.15 673.59 L698.15 690.09 L696.70 690.09 L696.70 676.09 L694.60 677.59Z"/>
<text transform="matrix(0.5210,0.0005,0,0.9731,700.15,689.90)" stroke-width="0.40" x="0.00 16.61 26.54 43.15 59.76 76.37">3,290,</text>
<text transform="matrix(0.5278,0.0005,0,0.9749,750.12,689.92)" stroke-width="0.36" x="0.00 19.23 35.80 52.37 67.59">Sooke</text>
<path d="M799.95 675.69 L802.30 673.59 L803.75 673.59 L803.75 690.09 L802.30 690.09 L802.30 676.09 L800.20 677.59Z"/>
<path d="M806.05 675.69 L808.40 673.59 L809.85 673.59 L809.85 690.09 L808.40 690.09 L808.40 676.09 L806.30 677.59Z"/>
<text transform="matrix(0.4142,0.0005,0,0.9374,811.85,689.61)" stroke-width="1.04" x="0.00">2</text>
</g>
<g aria-hidden="true" transform="translate(0.45,0)">
<text transform="matrix(0.5056,0.0005,0,0.9687,7.17,27.44)" stroke-width="0.47" x="0.00 19.37 30.72 47.43">Area</text>
<text transform="matrix(0.5558,0.0005,0,0.9822,47.76,27.55)" stroke-width="0.24" x="0.00 19.07 34.12 49.18 58.91 75.32">System</text>
<text transform="matrix(0.5517,0.0005,0,0.9811,218.57,27.54)" stroke-width="0.26" x="0.00 19.09 35.52 46.59 61.67 78.10">Survey</text>
<text transform="matrix(0.5469,0.0005,0,0.9799,219.13,53.01)" stroke-width="0.28" x="0.00 16.44 31.55 48.01 64.46 74.24 94.68 111.14 127.59 144.05 153.82 163.60 180.04 195.15 211.61">Type/Count Type</text>
<text transform="matrix(0.5713,0.0005,0,0.9859,366.53,27.58)" stroke-width="0.18" x="0.00 18.98 35.31 51.63 74.60 90.92 101.89 118.21 127.86 136.16 152.49">Enumeration</text>
<text transform="matrix(0.5620,0.0005,0,0.9837,366.55,53.04)" stroke-width="0.21" x="0.00 15.02 31.40 47.77 64.14 80.51 95.54 105.23 121.60 137.98 147.67 164.04">conducted by</text>
<text transform="matrix(0.5428,0.0005,0,0.9789,478.49,27.52)" stroke-width="0.29" x="0.00 20.46 36.94 46.74 63.22 73.02 89.50">Date of</text>
<text transform="matrix(0.5462,0.0005,0,0.9798,478.58,53.01)" stroke-width="0.28" x="0.00 8.44 24.90 40.02 49.80 59.58 74.69 91.15 107.61 124.07">last count</text>
<text transform="matrix(0.5786,0.0005,0,0.9876,567.61,27.59)" stroke-width="0.15" x="0.00 20.27 36.56 59.49 75.77 92.06">Number</text>
<text transform="matrix(0.5514,0.0005,0,0.9811,567.67,53.02)" stroke-width="0.26" x="0.00 16.43 26.18 35.93 51.02 67.45 78.52 93.60 110.03 125.12">of surveys</text>
<text transform="matrix(0.5380,0.0005,0,0.9776,657.00,27.51)" stroke-width="0.32" x="0.00 19.17 35.68 52.18">Peak</text>
<text transform="matrix(0.5572,0.0005,0,0.9825,656.96,53.03)" stroke-width="0.23" x="0.00 19.06 34.11 43.83 52.21 75.26 91.65 101.37">Estimate</text>
<text transform="matrix(0.5591,0.0005,0,0.9830,730.71,27.56)" stroke-width="0.23" x="0.00 16.39 26.10 41.14">4 yr</text>
<text transform="matrix(0.5705,0.0005,0,0.9857,730.70,53.06)" stroke-width="0.18" x="0.00 18.55 33.53 49.86">Avg.</text>
<path d="M792.45 13.27 L794.80 11.17 L796.25 11.17 L796.25 27.67 L794.80 27.67 L794.80 13.67 L792.70 15.17Z"/>
<text transform="matrix(0.5274,0.0005,0,0.9748,798.25,27.49)" stroke-width="0.36" x="0.00 16.57 26.46 41.69">2 yr</text>
<text transform="matrix(0.5796,0.0005,0,0.9878,791.49,53.07)" stroke-width="0.14" x="0.00 18.51 33.44 49.72">Avg.</text>
<path d="M12.25 89.70 L14.60 87.60 L16.05 87.60 L16.05 104.10 L14.60 104.10 L14.60 90.10 L12.50 91.60Z"/>
<text transform="matrix(0.5649,0.0005,0,0.9844,18.05,104.00)" stroke-width="0.20" x="0.00">4</text>
<path d="M173.75 95.90h4.80v1.9h-4.80Z"/>
<text transform="matrix(0.5499,0.0005,0,0.9807,47.97,103.97)" stroke-width="0.26" x="0.00 19.10 35.54 51.98 61.74 70.16 86.60 103.04 119.48 135.92 145.67 166.10 174.52 189.61 206.05 217.13">Puntledge River </text>
<text transform="matrix(0.5884,0.0005,0,0.9898,47.98,129.52)" stroke-width="0.11" x="0.00 14.89 31.13 54.01 76.89 93.13 104.01 113.56 124.45 140.68">summer run</text>
<text transform="matrix(0.5729,0.0005,0,0.9863,218.53,104.02)" stroke-width="0.17" x="0.00 22.96 31.26 46.23 62.54 78.86 88.49 108.79 125.11 148.06 164.38 172.68 188.99 198.63 206.93 221.90">Mixed/Cumulative</text>
<text transform="matrix(0.4440,0.0005,0,0.9488,366.79,103.71)" stroke-width="0.83" x="0.00 19.84 39.67">SEP</text>
<path d="M479.05 89.70 L481.40 87.60 L482.85 87.60 L482.85 104.10 L481.40 104.10 L481.40 90.10 L479.30 91.60Z"/>
<path d="M494.63 95.90h4.80v1.9h-4.80Z"/>
<text transform="matrix(0.5302,0.0005,0,0.9756,484.85,103.93)" stroke-width="0.35" x="0.00 32.59 53.12 69.68">0Dec</text>
<path d="M568.60 95.90h4.80v1.9h-4.80Z"/>
<text transform="matrix(0.5730,0.0005,0,0.9863,657.50,104.02)" stroke-width="0.17" x="0.00 16.31 32.63 48.94">434*</text>
<text transform="matrix(0.4973,0.0005,0,0.9663,730.88,103.85)" stroke-width="0.51" x="0.00 16.77 33.53">770</text>
<text transform="matrix(0.5574,0.0005,0,0.9826,791.96,103.99)" stroke-width="0.23" x="0.00 16.40 32.79">950</text>
<path d="M12.25 140.66 L14.60 138.56 L16.05 138.56 L16.05 155.06 L14.60 155.06 L14.60 141.06 L12.50 142.56Z"/>
<text transform="matrix(0.5649,0.0005,0,0.9844,18.05,154.96)" stroke-width="0.20" x="0.00">4</text>
<path d="M173.75 146.86h4.80v1.9h-4.80Z"/>
<text transform="matrix(0.5499,0.0005,0,0.9807,47.97,154.93)" stroke-width="0.26" x="0.00 19.10 35.54 51.98 61.74 70.16 86.60 103.04 119.48 135.92 145.67 166.10 174.52 189.61 206.05 217.13">Puntledge River </text>
<text transform="matrix(0.4624,0.0005,0,0.9552,48.11,180.19)" stroke-width="0.71" x="0.00 10.34 27.37 36.38">fall</text>
<text transform="matrix(0.6710,0.0005,0,0.9964,74.98,180.53)" stroke-width="0.00" x="0.00 10.53 26.41">run</text>
<text transform="matrix(0.5729,0.0005,0,0.9863,218.53,154.97)" stroke-width="0.17" x="0.00 22.96 31.26 46.23 62.54 78.86 88.49 108.79 125.11 148.06 164.38 172.68 188.99 198.63 206.93 221.90">Mixed/Cumulative</text>
<text transform="matrix(0.4440,0.0005,0,0.9488,366.79,154.66)" stroke-width="0.83" x="0.00 19.84 39.67">SEP</text>
<path d="M479.05 140.66 L481.40 138.56 L482.85 138.56 L482.85 155.06 L481.40 155.06 L481.40 141.06 L479.30 142.56Z"/>
<path d="M494.63 146.86h4.80v1.9h-4.80Z"/>
<text transform="matrix(0.5302,0.0005,0,0.9756,484.85,154.88)" stroke-width="0.35" x="0.00 32.59 53.12 69.68">0Dec</text>
<path d="M568.60 146.86h4.80v1.9h-4.80Z"/>
<path d="M689.99 140.66 L692.34 138.56 L693.79 138.56 L693.79 155.06 L692.34 155.06 L692.34 141.06 L690.24 142.56Z"/>
<text transform="matrix(0.5550,0.0005,0,0.9820,656.96,154.94)" stroke-width="0.24" x="0.00 16.41 26.14 42.55 69.95">9,85*</text>
<path d="M731.25 140.66 L733.60 138.56 L735.05 138.56 L735.05 155.06 L733.60 155.06 L733.60 141.06 L731.50 142.56Z"/>
<text transform="matrix(0.5702,0.0005,0,0.9856,737.05,154.97)" stroke-width="0.18" x="0.00 16.33 25.98 42.31 58.64">2,080</text>
<path d="M813.34 140.66 L815.69 138.56 L817.14 138.56 L817.14 155.06 L815.69 155.06 L815.69 141.06 L813.59 142.56Z"/>
<text transform="matrix(0.4738,0.0005,0,0.9590,792.13,154.75)" stroke-width="0.64" x="0.00 16.94 27.19 57.00">7,50</text>
<path d="M12.25 191.61 L14.60 189.51 L16.05 189.51 L16.05 206.01 L14.60 206.01 L14.60 192.01 L12.50 193.51Z"/>
<text transform="matrix(0.5649,0.0005,0,0.9844,18.05,205.91)" stroke-width="0.20" x="0.00">4</text>
<text transform="matrix(0.5423,0.0005,0,0.9787,47.99,205.87)" stroke-width="0.30" x="0.00 19.14 27.61 44.09 53.90 75.70 92.18 108.66 117.13 125.60 140.73 157.22 180.34 190.15 210.61 219.08 234.22 250.70">Big Qualicum River</text>
<text transform="matrix(0.5729,0.0005,0,0.9863,218.53,205.93)" stroke-width="0.17" x="0.00 22.96 31.26 46.23 62.54 78.86 88.49 108.79 125.11 148.06 164.38 172.68 188.99 198.63 206.93 221.90">Mixed/Cumulative</text>
<text transform="matrix(0.4440,0.0005,0,0.9488,366.79,205.62)" stroke-width="0.83" x="0.00 19.84 39.67">SEP</text>
<path d="M496.71 197.81h4.80v1.9h-4.80Z"/>
<text transform="matrix(0.5402,0.0005,0,0.9782,477.89,205.86)" stroke-width="0.31" x="0.00 16.49 48.73 69.20 85.70">26Nov</text>
<path d="M568.60 197.81h4.80v1.9h-4.80Z"/>
<path d="M657.75 191.61 L660.10 189.51 L661.55 189.51 L661.55 206.01 L660.10 206.01 L660.10 192.01 L658.00 193.51Z"/>
<text transform="matrix(0.5089,0.0005,0,0.9697,663.55,205.79)" stroke-width="0.45" x="0.00 16.69 26.70 43.39 60.07">2,235</text>
<text transform="matrix(0.5582,0.0005,0,0.9827,730.76,205.90)" stroke-width="0.23" x="0.00 16.39 26.11 42.50 58.89">6,980</text>
<text transform="matrix(0.5070,0.0005,0,0.9691,792.06,205.79)" stroke-width="0.46" x="0.00 16.70 26.72 43.42 60.12">7,030</text>
<path d="M12.25 217.09 L14.60 214.99 L16.05 214.99 L16.05 231.49 L14.60 231.49 L14.60 217.49 L12.50 218.99Z"/>
<text transform="matrix(0.5649,0.0005,0,0.9844,18.05,231.39)" stroke-width="0.20" x="0.00">4</text>
<text transform="matrix(0.5437,0.0005,0,0.9791,47.99,231.35)" stroke-width="0.29" x="0.00 16.47 24.93 34.73 44.52 52.98 69.45 79.25 101.04 117.52 133.99 142.45 150.91 166.04 182.51 205.63 215.42 235.88 244.34 259.47 275.94">Little Qualicum River</text>
<text transform="matrix(0.5729,0.0005,0,0.9863,218.53,231.41)" stroke-width="0.17" x="0.00 22.96 31.26 46.23 62.54 78.86 88.49 108.79 125.11 148.06 164.38 172.68 188.99 198.63 206.93 221.90">Mixed/Cumulative</text>
<text transform="matrix(0.4903,0.0005,0,0.9642,366.69,231.22)" stroke-width="0.55" x="0.00 19.47 38.95 58.42 68.56 88.03 98.17 117.64">SEP/StAD</text>
<path d="M496.71 223.29h4.80v1.9h-4.80Z"/>
<text transform="matrix(0.5402,0.0005,0,0.9782,477.89,231.34)" stroke-width="0.31" x="0.00 16.49 48.73 69.20 85.70">26Nov</text>
<path d="M568.75 217.09 L571.10 214.99 L572.55 214.99 L572.55 231.49 L571.10 231.49 L571.10 217.49 L569.00 218.99Z"/>
<text transform="matrix(0.5314,0.0005,0,0.9759,574.55,231.32)" stroke-width="0.35" x="0.00">0</text>
<text transform="matrix(0.5257,0.0005,0,0.9744,657.55,231.31)" stroke-width="0.37" x="0.00 16.58 26.48 43.06 59.65 76.23">5,932*</text>
<text transform="matrix(0.5688,0.0005,0,0.9853,730.73,231.40)" stroke-width="0.19" x="0.00 16.34 25.99 42.33 58.67">6,840</text>
<text transform="matrix(0.5364,0.0005,0,0.9772,792.24,231.33)" stroke-width="0.32" x="0.00 16.52 26.35 42.87 59.39">4,750</text>
<path d="M12.25 242.57 L14.60 240.47 L16.05 240.47 L16.05 256.97 L14.60 256.97 L14.60 242.97 L12.50 244.47Z"/>
<text transform="matrix(0.5649,0.0005,0,0.9844,18.05,256.87)" stroke-width="0.20" x="0.00">4</text>
<text transform="matrix(0.5514,0.0005,0,0.9811,47.97,256.84)" stroke-width="0.26" x="0.00 19.09 35.52 51.95 60.37 68.78 83.87 100.30 123.37 139.80 156.23 165.98 186.40 194.81 209.90 226.33">Englishman River</text>
<text transform="matrix(0.5523,0.0005,0,0.9813,218.57,256.84)" stroke-width="0.25" x="0.00 19.09 35.51 46.58 54.99 71.42 87.84 96.25 111.33 121.08 140.16 156.59 173.68">Periodic/PL+D</text>
<text transform="matrix(0.4696,0.0005,0,0.9576,366.74,256.65)" stroke-width="0.67" x="0.00 19.63 40.58 61.53 79.81 90.10 109.73 120.02 139.65">BCCF/StAD</text>
<path d="M496.60 248.77h4.80v1.9h-4.80Z"/>
<text transform="matrix(0.5356,0.0005,0,0.9770,477.90,256.81)" stroke-width="0.33" x="0.00 16.52 48.91 69.42 85.94">25Nov</text>
<text transform="matrix(0.5758,0.0005,0,0.9869,567.62,256.89)" stroke-width="0.16" x="0.00">8</text>
<text transform="matrix(0.5539,0.0005,0,0.9817,657.52,256.85)" stroke-width="0.25" x="0.00 16.42 32.83 49.25">588*</text>
<path d="M731.95 242.57 L734.30 240.47 L735.75 240.47 L735.75 256.97 L734.30 256.97 L734.30 242.97 L732.20 244.47Z"/>
<text transform="matrix(0.5705,0.0005,0,0.9857,737.75,256.88)" stroke-width="0.18" x="0.00 9.65 25.98 42.30">,050</text>
<path d="M793.05 242.57 L795.40 240.47 L796.85 240.47 L796.85 256.97 L795.40 256.97 L795.40 242.97 L793.30 244.47Z"/>
<path d="M813.85 242.57 L816.20 240.47 L817.65 240.47 L817.65 256.97 L816.20 256.97 L816.20 242.97 L814.10 244.47Z"/>
<text transform="matrix(0.5647,0.0005,0,0.9843,798.85,256.87)" stroke-width="0.20" x="0.00 9.68 36.84">,00</text>
<path d="M12.15 268.05 L14.50 265.95 L15.95 265.95 L15.95 282.45 L14.50 282.45 L14.50 268.45 L12.40 269.95Z"/>
<text transform="matrix(0.5146,0.0005,0,0.9713,17.95,282.24)" stroke-width="0.43" x="0.00">5</text>
<text transform="matrix(0.5448,0.0005,0,0.9794,47.98,282.31)" stroke-width="0.29" x="0.00 19.13 27.58 36.03 52.50 75.61 98.73 115.19 131.66 141.45 161.90 173.01 189.48 205.95">Sliammon Creek</text>
<text transform="matrix(0.5532,0.0005,0,0.9815,218.57,282.32)" stroke-width="0.25" x="0.00 17.73 34.15 50.57 65.65 82.07 91.81 112.21 128.63 151.70 168.12 176.52 192.94 202.68 211.09 226.16">Fence/Cumulative</text>
<text transform="matrix(0.4581,0.0005,0,0.9538,367.22,282.09)" stroke-width="0.74" x="0.00 18.37 36.74">TFN</text>
<path d="M479.05 268.05 L481.40 265.95 L482.85 265.95 L482.85 282.45 L481.40 282.45 L481.40 268.45 L479.30 269.95Z"/>
<path d="M494.46 274.25h4.80v1.9h-4.80Z"/>
<text transform="matrix(0.5175,0.0005,0,0.9721,484.85,282.25)" stroke-width="0.41" x="0.00 33.06 53.68 70.31">7Nov</text>
<path d="M568.60 274.25h4.80v1.9h-4.80Z"/>
<path d="M657.75 268.05 L660.10 265.95 L661.55 265.95 L661.55 282.45 L660.10 282.45 L660.10 268.45 L658.00 269.95Z"/>
<text transform="matrix(0.5705,0.0005,0,0.9857,663.55,282.36)" stroke-width="0.18" x="0.00 16.33">4*</text>
<path d="M731.95 268.05 L734.30 265.95 L735.75 265.95 L735.75 282.45 L734.30 282.45 L734.30 268.45 L732.20 269.95Z"/>
<path d="M738.05 268.05 L740.40 265.95 L741.85 265.95 L741.85 282.45 L740.40 282.45 L740.40 268.45 L738.30 269.95Z"/>
<text transform="matrix(0.5983,0.0005,0,0.9920,743.85,282.41)" stroke-width="0.07" x="0.00">0</text>
<path d="M793.05 268.05 L795.40 265.95 L796.85 265.95 L796.85 282.45 L795.40 282.45 L795.40 268.45 L793.30 269.95Z"/>
<text transform="matrix(0.5198,0.0005,0,0.9727,798.85,282.25)" stroke-width="0.40" x="0.00 16.62">30</text>
<path d="M12.15 293.52 L14.50 291.42 L15.95 291.42 L15.95 307.92 L14.50 307.92 L14.50 293.92 L12.40 295.42Z"/>
<text transform="matrix(0.5146,0.0005,0,0.9713,17.95,307.72)" stroke-width="0.43" x="0.00">5</text>
<text transform="matrix(0.5328,0.0005,0,0.9763,48.54,307.76)" stroke-width="0.34" x="0.00 17.85 34.39 50.93 67.46 84.00 100.54 115.73 124.25 140.79 150.65 171.17 179.70 194.89 211.42">Theodosia River</text>
<text transform="matrix(0.5523,0.0005,0,0.9813,218.57,307.80)" stroke-width="0.25" x="0.00 19.09 35.51 46.58 54.99 71.42 87.84 96.25 111.33 121.08 140.16 156.59 173.68">Periodic/PL+D</text>
<text transform="matrix(0.4581,0.0005,0,0.9538,367.22,307.57)" stroke-width="0.74" x="0.00 18.37 36.74">TFN</text>
<path d="M479.05 293.52 L481.40 291.42 L482.85 291.42 L482.85 307.92 L481.40 307.92 L481.40 293.92 L479.30 295.42Z"/>
<path d="M494.77 299.72h4.80v1.9h-4.80Z"/>
<text transform="matrix(0.5411,0.0005,0,0.9784,484.85,307.78)" stroke-width="0.30" x="0.00 32.20 52.67 69.16">6Nov</text>
<path d="M568.60 293.52 L570.95 291.42 L572.40 291.42 L572.40 307.92 L570.95 307.92 L570.95 293.92 L568.85 295.42Z"/>
<path d="M574.70 293.52 L577.05 291.42 L578.50 291.42 L578.50 307.92 L577.05 307.92 L577.05 293.92 L574.95 295.42Z"/>
<text transform="matrix(0.5185,0.0005,0,0.9724,657.04,307.73)" stroke-width="0.41" x="0.00 16.63 33.25">25*</text>
<text transform="matrix(0.5162,0.0005,0,0.9717,730.84,307.72)" stroke-width="0.42" x="0.00 16.64">70</text>
<text transform="matrix(0.5196,0.0005,0,0.9727,792.55,307.73)" stroke-width="0.40" x="0.00 16.62">50</text>
<path d="M12.65 319.00 L15.00 316.90 L16.45 316.90 L16.45 333.40 L15.00 333.40 L15.00 319.40 L12.90 320.90Z"/>
<text transform="matrix(0.3808,0.0005,0,0.9229,18.45,332.80)" stroke-width="1.31" x="0.00">7</text>
<path d="M164.65 325.20h4.80v1.9h-4.80Z"/>
<text transform="matrix(0.5556,0.0005,0,0.9821,47.96,333.28)" stroke-width="0.24" x="0.00 20.39 36.80 53.21 69.61 78.01 101.06 117.47 127.19 147.58 155.98 171.04 187.44 198.50">Nanaimo River </text>
<text transform="matrix(0.5761,0.0005,0,0.9870,48.00,358.80)" stroke-width="0.16" x="0.00 14.95 31.25 42.19 50.47 66.77 83.07 92.69 103.63 119.93">spring run</text>
<text transform="matrix(0.5523,0.0005,0,0.9813,218.57,333.28)" stroke-width="0.25" x="0.00 19.09 35.51 46.58 54.99 71.42 87.84 96.25 111.33 121.08 140.16 156.59 173.68">Periodic/PL+D</text>
<text transform="matrix(0.5109,0.0005,0,0.9703,366.65,333.19)" stroke-width="0.44" x="0.00 19.33 37.32 57.98 67.98 87.31 97.31 116.64">SFN/StAD</text>
<path d="M487.55 325.20h4.80v1.9h-4.80Z"/>
<text transform="matrix(0.5176,0.0005,0,0.9721,477.94,333.20)" stroke-width="0.41" x="0.00 33.05 55.01 70.29">9Oct</text>
<text transform="matrix(0.5455,0.0005,0,0.9796,567.68,333.26)" stroke-width="0.28" x="0.00">2</text>
<text transform="matrix(0.6183,0.0005,0,0.9962,656.83,333.40)" stroke-width="0.00" x="0.00 16.10">9*</text>
<text transform="matrix(0.5339,0.0005,0,0.9765,731.51,333.24)" stroke-width="0.34" x="0.00 20.52 30.37">N/A</text>
<text transform="matrix(0.5366,0.0005,0,0.9773,792.60,333.24)" stroke-width="0.32" x="0.00 20.50 30.34">N/A</text>
<path d="M12.65 369.96 L15.00 367.86 L16.45 367.86 L16.45 384.36 L15.00 384.36 L15.00 370.36 L12.90 371.86Z"/>
<text transform="matrix(0.3808,0.0005,0,0.9229,18.45,383.75)" stroke-width="1.31" x="0.00">7</text>
<path d="M164.65 376.16h4.80v1.9h-4.80Z"/>
<text transform="matrix(0.5556,0.0005,0,0.9821,47.96,384.24)" stroke-width="0.24" x="0.00 20.39 36.80 53.21 69.61 78.01 101.06 117.47 127.19 147.58 155.98 171.04 187.44 198.50">Nanaimo River </text>
<text transform="matrix(0.5884,0.0005,0,0.9898,47.98,409.78)" stroke-width="0.11" x="0.00 14.89 31.13 54.01 76.89 93.13 104.01 113.56 124.45 140.68">summer run</text>
<text transform="matrix(0.5523,0.0005,0,0.9813,218.57,384.23)" stroke-width="0.25" x="0.00 19.09 35.51 46.58 54.99 71.42 87.84 96.25 111.33 121.08 140.16 156.59 173.68">Periodic/PL+D</text>
<text transform="matrix(0.4523,0.0005,0,0.9517,366.77,383.99)" stroke-width="0.77" x="0.00 21.09 42.18 61.95">NRSS</text>
<path d="M495.51 376.16h4.80v1.9h-4.80Z"/>
<text transform="matrix(0.4913,0.0005,0,0.9645,477.99,384.09)" stroke-width="0.55" x="0.00 16.81 50.92 73.04 88.50">22Oct</text>
<path d="M568.75 369.96 L571.10 367.86 L572.55 367.86 L572.55 384.36 L571.10 384.36 L571.10 370.36 L569.00 371.86Z"/>
<text transform="matrix(0.4979,0.0005,0,0.9665,574.55,384.11)" stroke-width="0.51" x="0.00">9</text>
<text transform="matrix(0.5049,0.0005,0,0.9685,657.57,384.13)" stroke-width="0.47" x="0.00 16.71 33.43 50.14">574*</text>
<text transform="matrix(0.5080,0.0005,0,0.9694,731.37,384.14)" stroke-width="0.46" x="0.00 16.69 33.39">560</text>
<text transform="matrix(0.5137,0.0005,0,0.9710,792.05,384.15)" stroke-width="0.43" x="0.00 16.66 33.31">730</text>
<path d="M12.65 420.91 L15.00 418.81 L16.45 418.81 L16.45 435.31 L15.00 435.31 L15.00 421.31 L12.90 422.81Z"/>
<text transform="matrix(0.3808,0.0005,0,0.9229,18.45,434.71)" stroke-width="1.31" x="0.00">7</text>
<path d="M164.65 427.11h4.80v1.9h-4.80Z"/>
<text transform="matrix(0.5556,0.0005,0,0.9821,47.96,435.20)" stroke-width="0.24" x="0.00 20.39 36.80 53.21 69.61 78.01 101.06 117.47 127.19 147.58 155.98 171.04 187.44 198.50">Nanaimo River </text>
<text transform="matrix(0.4624,0.0005,0,0.9552,48.11,460.45)" stroke-width="0.71" x="0.00 10.34 27.37 36.38">fall</text>
<text transform="matrix(0.6710,0.0005,0,0.9964,74.98,460.79)" stroke-width="0.00" x="0.00 10.53 26.41">run</text>
<text transform="matrix(0.5523,0.0005,0,0.9813,218.57,435.19)" stroke-width="0.25" x="0.00 19.09 35.51 46.58 54.99 71.42 87.84 96.25 111.33 121.08 140.16 156.59 173.68">Periodic/PL+D</text>
<text transform="matrix(0.4523,0.0005,0,0.9517,366.77,434.95)" stroke-width="0.77" x="0.00 21.09 42.18 61.95">NRSS</text>
<path d="M487.55 427.11h4.80v1.9h-4.80Z"/>
<text transform="matrix(0.5176,0.0005,0,0.9721,477.94,435.11)" stroke-width="0.41" x="0.00 33.05 55.01 70.29">9Oct</text>
<text transform="matrix(0.4954,0.0005,0,0.9657,568.58,435.06)" stroke-width="0.52" x="0.00">0</text>
<text transform="matrix(0.5645,0.0005,0,0.9843,657.51,435.21)" stroke-width="0.20" x="0.00 16.36 26.04 42.40 58.76 75.12">4,030*</text>
<text transform="matrix(0.5763,0.0005,0,0.9870,731.29,435.24)" stroke-width="0.16" x="0.00 16.30 25.92 42.21 58.51">4,600</text>
<text transform="matrix(0.5485,0.0005,0,0.9803,792.22,435.18)" stroke-width="0.27" x="0.00 16.45 26.21 42.66 59.11">3,880</text>
<path d="M12.65 471.87 L15.00 469.77 L16.45 469.77 L16.45 486.27 L15.00 486.27 L15.00 472.27 L12.90 473.77Z"/>
<text transform="matrix(0.3808,0.0005,0,0.9229,18.45,485.66)" stroke-width="1.31" x="0.00">7</text>
<path d="M178.95 478.07h4.80v1.9h-4.80Z"/>
<text transform="matrix(0.5387,0.0005,0,0.9778,48.00,486.12)" stroke-width="0.31" x="0.00 20.49 36.99 53.49 76.64 93.15 101.63 118.14 134.64 149.79 159.62 180.11 188.59 203.75 220.25 231.40">Chemainus River </text>
<text transform="matrix(0.4624,0.0005,0,0.9552,48.11,511.41)" stroke-width="0.71" x="0.00 10.34 27.37 36.38">fall</text>
<text transform="matrix(0.6710,0.0005,0,0.9964,74.98,511.75)" stroke-width="0.00" x="0.00 10.53 26.41">run</text>
<text transform="matrix(0.5729,0.0005,0,0.9863,218.53,486.19)" stroke-width="0.17" x="0.00 22.96 31.26 46.23 62.54 78.86 88.49 108.79 125.11 148.06 164.38 172.68 188.99 198.63 206.93 221.90">Mixed/Cumulative</text>
<text transform="matrix(0.5052,0.0005,0,0.9686,366.66,486.04)" stroke-width="0.47" x="0.00 22.03 41.41 62.10 81.47 91.51 110.88 120.91 140.29">QARS/StAD</text>
<text transform="matrix(0.4523,0.0005,0,0.9517,366.77,511.38)" stroke-width="0.77" x="0.00 21.09 42.18 61.95">NRSS</text>
<path d="M487.55 478.07h4.80v1.9h-4.80Z"/>
<text transform="matrix(0.5176,0.0005,0,0.9721,477.94,486.07)" stroke-width="0.41" x="0.00 33.05 55.01 70.29">6Oct</text>
<path d="M568.60 478.07h4.80v1.9h-4.80Z"/>
<text transform="matrix(0.5031,0.0005,0,0.9680,657.57,486.04)" stroke-width="0.48" x="0.00 16.73">42</text>
<path d="M731.95 471.87 L734.30 469.77 L735.75 469.77 L735.75 486.27 L734.30 486.27 L734.30 472.27 L732.20 473.77Z"/>
<text transform="matrix(0.5159,0.0005,0,0.9716,737.75,486.07)" stroke-width="0.42" x="0.00 16.64">20</text>
<text transform="matrix(0.5656,0.0005,0,0.9845,791.64,486.17)" stroke-width="0.20" x="0.00 16.35 32.71">290</text>
<path d="M12.65 522.83 L15.00 520.73 L16.45 520.73 L16.45 537.23 L15.00 537.23 L15.00 523.23 L12.90 524.73Z"/>
<text transform="matrix(0.4895,0.0005,0,0.9639,18.45,536.96)" stroke-width="0.56" x="0.00">8</text>
<path d="M168.05 529.03h4.80v1.9h-4.80Z"/>
<text transform="matrix(0.5354,0.0005,0,0.9770,48.00,537.07)" stroke-width="0.33" x="0.00 20.51 37.03 57.54 66.04 81.22 97.74 114.27 130.79 140.63 161.14 169.65 184.82 201.34 212.51">Cowichan River </text>
<text transform="matrix(0.4624,0.0005,0,0.9552,48.11,562.36)" stroke-width="0.71" x="0.00 10.34 27.37 36.38">fall</text>
<text transform="matrix(0.6710,0.0005,0,0.9964,74.98,562.70)" stroke-width="0.00" x="0.00 10.53 26.41">run</text>
<text transform="matrix(0.5532,0.0005,0,0.9815,218.57,537.10)" stroke-width="0.25" x="0.00 17.73 34.15 50.57 65.65 82.07 91.81 112.21 128.63 151.70 168.12 176.52 192.94 202.68 211.09 226.16">Fence/Cumulative</text>
<text transform="matrix(0.4877,0.0005,0,0.9634,366.70,536.95)" stroke-width="0.57" x="0.00 20.82 38.96 49.12 68.61 78.76 98.26">CT/StAD</text>
<path d="M487.95 529.03h4.80v1.9h-4.80Z"/>
<text transform="matrix(0.5536,0.0005,0,0.9816,477.87,537.10)" stroke-width="0.25" x="0.00 31.77 52.18 68.59">6Nov</text>
<path d="M568.60 529.03h4.80v1.9h-4.80Z"/>
<text transform="matrix(0.5548,0.0005,0,0.9819,656.96,537.11)" stroke-width="0.24" x="0.00 16.41 32.82 42.56 58.97 75.38 91.79">22,390*</text>
<text transform="matrix(0.5718,0.0005,0,0.9860,730.13,537.14)" stroke-width="0.17" x="0.00 16.32 32.64 42.28 58.60 74.92">20,000</text>
<path d="M792.45 522.83 L794.80 520.73 L796.25 520.73 L796.25 537.23 L794.80 537.23 L794.80 523.23 L792.70 524.73Z"/>
<text transform="matrix(0.5805,0.0005,0,0.9880,798.25,537.16)" stroke-width="0.14" x="0.00 16.28 25.87 42.15 58.43">0,090</text>
<path d="M12.65 573.78 L15.00 571.68 L16.45 571.68 L16.45 588.18 L15.00 588.18 L15.00 574.18 L12.90 575.68Z"/>
<text transform="matrix(0.4895,0.0005,0,0.9639,18.45,587.91)" stroke-width="0.56" x="0.00">9</text>
<text transform="matrix(0.5484,0.0005,0,0.9803,47.98,588.05)" stroke-width="0.27" x="0.00 21.77 38.22 46.65 63.09 78.19 87.96 99.05 115.50 131.95 155.04 164.81 185.24 193.67 208.77 225.22">Goldstream River</text>
<text transform="matrix(0.5532,0.0005,0,0.9815,218.57,588.06)" stroke-width="0.25" x="0.00 17.73 34.15 50.57 65.65 82.07 91.81 112.21 128.63 151.70 168.12 176.52 192.94 202.68 211.09 226.16">Fence/Cumulative</text>
<text transform="matrix(0.4409,0.0005,0,0.9476,366.80,587.78)" stroke-width="0.85" x="0.00 21.19 41.05 60.92 80.78">CVSEA</text>
<path d="M487.34 579.98h4.80v1.9h-4.80Z"/>
<text transform="matrix(0.4988,0.0005,0,0.9667,477.98,587.94)" stroke-width="0.51" x="0.00 33.80 54.54 71.29">2Dec</text>
<path d="M568.60 579.98h4.80v1.9h-4.80Z"/>
<text transform="matrix(0.4679,0.0005,0,0.9570,657.61,587.86)" stroke-width="0.68" x="0.00">3</text>
<path d="M731.95 573.78 L734.30 571.68 L735.75 571.68 L735.75 588.18 L734.30 588.18 L734.30 574.18 L732.20 575.68Z"/>
<text transform="matrix(0.5230,0.0005,0,0.9736,737.75,587.99)" stroke-width="0.39" x="0.00">0</text>
<text transform="matrix(0.5196,0.0005,0,0.9727,792.55,587.99)" stroke-width="0.40" x="0.00 16.62">50</text>
<text transform="matrix(0.5334,0.0005,0,0.9764,11.81,613.50)" stroke-width="0.34" x="0.00 16.53">20</text>
<text transform="matrix(0.5344,0.0005,0,0.9767,48.00,613.50)" stroke-width="0.33" x="0.00 19.19 35.72 52.25 67.43 83.96 93.81 114.32 122.83 138.02 154.54">Sooke River</text>
<text transform="matrix(0.5523,0.0005,0,0.9813,218.57,613.54)" stroke-width="0.25" x="0.00 19.09 35.51 46.58 54.99 71.42 87.84 96.25 111.33 121.08 140.16 156.59 173.68">Periodic/PL+D</text>
<text transform="matrix(0.4174,0.0005,0,0.9387,366.84,613.18)" stroke-width="1.01" x="0.00 20.08 41.49 62.89">BCCF</text>
<path d="M488.22 605.46h4.80v1.9h-4.80Z"/>
<text transform="matrix(0.5303,0.0005,0,0.9756,478.44,613.49)" stroke-width="0.35" x="0.00 32.58 53.12 69.67">3Nov</text>
<text transform="matrix(0.5229,0.0005,0,0.9736,568.25,613.47)" stroke-width="0.39" x="0.00">4</text>
<path d="M666.67 599.26 L669.02 597.16 L670.47 597.16 L670.47 613.66 L669.02 613.66 L669.02 599.66 L666.92 601.16Z"/>
<text transform="matrix(0.5553,0.0005,0,0.9820,657.26,613.54)" stroke-width="0.24" x="0.00 27.39 43.80">64*</text>
<text transform="matrix(0.5411,0.0005,0,0.9784,730.79,613.51)" stroke-width="0.30" x="0.00 16.49 32.98">630</text>
<path d="M801.66 599.26 L804.01 597.16 L805.46 597.16 L805.46 613.66 L804.01 613.66 L804.01 599.66 L801.91 601.16Z"/>
<text transform="matrix(0.5807,0.0005,0,0.9881,791.91,613.59)" stroke-width="0.14" x="0.00 26.78">60</text>
<text transform="matrix(0.5074,0.0005,0,0.9692,3.07,664.39)" stroke-width="0.46" x="0.00 12.69 28.04 44.74 60.09 75.44">*Jacks</text>
<text transform="matrix(0.5553,0.0005,0,0.9820,54.36,664.50)" stroke-width="0.24" x="0.00 8.39 24.80 39.86 48.26 64.67 81.08 97.48 113.89">included:</text>
<text transform="matrix(0.5648,0.0005,0,0.9843,128.84,664.52)" stroke-width="0.20" x="0.00 19.02 35.38 51.73 61.41 69.75 86.11 102.47 118.83">Puntledge</text>
<text transform="matrix(0.5846,0.0005,0,0.9889,208.60,664.55)" stroke-width="0.12" x="0.00 18.92 35.17 58.07 80.97 97.23">Summer</text>
<text transform="matrix(0.5033,0.0005,0,0.9680,276.97,664.38)" stroke-width="0.48" x="0.00 16.73">24</text>
<text transform="matrix(0.6750,0.0005,0,0.9964,298.25,664.62)" stroke-width="0.00" x="0.00">&amp;</text>
<text transform="matrix(0.4644,0.0005,0,0.9559,315.35,664.28)" stroke-width="0.70" x="0.00 18.32 35.33 44.32">Fall</text>
<path d="M345.35 650.22 L347.70 648.12 L349.15 648.12 L349.15 664.62 L347.70 664.62 L347.70 650.62 L345.60 652.12Z"/>
<path d="M368.05 650.22 L370.40 648.12 L371.85 648.12 L371.85 664.62 L370.40 664.62 L370.40 650.62 L368.30 652.12Z"/>
<text transform="matrix(0.4944,0.0005,0,0.9654,351.15,664.36)" stroke-width="0.53" x="0.00 16.79 45.91">27,</text>
<text transform="matrix(0.5754,0.0005,0,0.9868,383.62,664.54)" stroke-width="0.16" x="0.00 18.96 27.25">Big</text>
<text transform="matrix(0.5541,0.0005,0,0.9817,411.76,664.50)" stroke-width="0.25" x="0.00 21.74 38.15 54.57 62.97 71.37 86.44 102.85">Qualicum</text>
<path d="M486.85 650.22 L489.20 648.12 L490.65 648.12 L490.65 664.62 L489.20 664.62 L489.20 650.62 L487.10 652.12Z"/>
<text transform="matrix(0.4376,0.0005,0,0.9464,492.65,664.20)" stroke-width="0.87" x="0.00 17.23 34.47 51.70">277,</text>
<text transform="matrix(0.5439,0.0005,0,0.9792,525.38,664.47)" stroke-width="0.29" x="0.00 16.47 24.93 34.72 44.52 52.97">Little</text>
<text transform="matrix(0.5490,0.0005,0,0.9804,568.47,664.48)" stroke-width="0.27" x="0.00 21.76 38.21 54.65 63.08 71.51 86.61 103.05">Qualicum</text>
<text transform="matrix(0.5150,0.0005,0,0.9714,643.14,664.41)" stroke-width="0.42" x="0.00 16.65 33.30 49.95">929,</text>
<text transform="matrix(0.5531,0.0005,0,0.9815,679.77,664.49)" stroke-width="0.25" x="0.00 19.08 35.50 51.92 60.33 68.74 83.81 100.23 123.30 139.72">Englishman</text>
<path d="M771.75 650.22 L774.10 648.12 L775.55 648.12 L775.55 664.62 L774.10 664.62 L774.10 650.62 L772.00 652.12Z"/>
<text transform="matrix(0.5237,0.0005,0,0.9738,777.55,664.43)" stroke-width="0.38" x="0.00 16.59 33.19">68,</text>
<text transform="matrix(0.5518,0.0005,0,0.9812,3.07,689.97)" stroke-width="0.26" x="0.00 20.41 36.84 53.27 69.70 78.11 101.18">Nanaimo</text>
<text transform="matrix(0.5446,0.0005,0,0.9793,74.78,689.95)" stroke-width="0.29" x="0.00 19.13 35.60 58.71 81.83 98.30">Summer</text>
<text transform="matrix(0.5216,0.0005,0,0.9732,140.75,689.90)" stroke-width="0.39" x="0.00 16.61 33.21 49.82">352,</text>
<text transform="matrix(0.5691,0.0005,0,0.9854,176.83,690.00)" stroke-width="0.18" x="0.00 20.32 36.65 52.99 69.32 77.64 100.62">Nanaimo</text>
<text transform="matrix(0.5374,0.0005,0,0.9775,247.70,689.94)" stroke-width="0.32" x="0.00 17.82 34.33 42.83">Fall</text>
<path d="M278.35 675.69 L280.70 673.59 L282.15 673.59 L282.15 690.09 L280.70 690.09 L280.70 676.09 L278.60 677.59Z"/>
<text transform="matrix(0.4830,0.0005,0,0.9619,284.15,689.81)" stroke-width="0.59" x="0.00 16.87 33.73 50.60">532,</text>
<text transform="matrix(0.5486,0.0005,0,0.9804,319.08,689.96)" stroke-width="0.27" x="0.00 20.43 36.88 53.32 69.77 78.20 101.29">Nanaimo</text>
<text transform="matrix(0.5437,0.0005,0,0.9791,390.39,689.95)" stroke-width="0.29" x="0.00 19.13 35.61 46.73 55.19 71.66">Spring</text>
<text transform="matrix(0.5877,0.0005,0,0.9896,444.10,690.04)" stroke-width="0.11" x="0.00 10.88 27.13 43.37 59.61 74.50">(above</text>
<text transform="matrix(0.5126,0.0005,0,0.9707,502.06,689.88)" stroke-width="0.44" x="0.00 15.32 31.98 47.30 63.96 80.63">second</text>
<text transform="matrix(0.5487,0.0005,0,0.9804,557.88,689.96)" stroke-width="0.27" x="0.00 8.43 24.88 39.97 56.42">lake)</text>
<text transform="matrix(0.4924,0.0005,0,0.9648,600.08,689.83)" stroke-width="0.54" x="0.00 16.80">3,</text>
<text transform="matrix(0.5370,0.0005,0,0.9774,618.50,689.94)" stroke-width="0.32" x="0.00 20.50 37.01 57.51 66.01 81.17 97.69 114.20">Cowichan</text>
<path d="M694.35 675.69 L696.70 673.59 L698.15 673.59 L698.15 690.09 L696.70 690.09 L696.70 676.09 L694.60 677.59Z"/>
<text transform="matrix(0.5210,0.0005,0,0.9731,700.15,689.90)" stroke-width="0.40" x="0.00 16.61 26.54 43.15 59.76 76.37">3,290,</text>
<text transform="matrix(0.5278,0.0005,0,0.9749,750.12,689.92)" stroke-width="0.36" x="0.00 19.23 35.80 52.37 67.59">Sooke</text>
<path d="M799.95 675.69 L802.30 673.59 L803.75 673.59 L803.75 690.09 L802.30 690.09 L802.30 676.09 L800.20 677.59Z"/>
<path d="M806.05 675.69 L808.40 673.59 L809.85 673.59 L809.85 690.09 L808.40 690.09 L808.40 676.09 L806.30 677.59Z"/>
<text transform="matrix(0.4142,0.0005,0,0.9374,811.85,689.61)" stroke-width="1.04" x="0.00">2</text>
</g>
</svg>
</body></html>
